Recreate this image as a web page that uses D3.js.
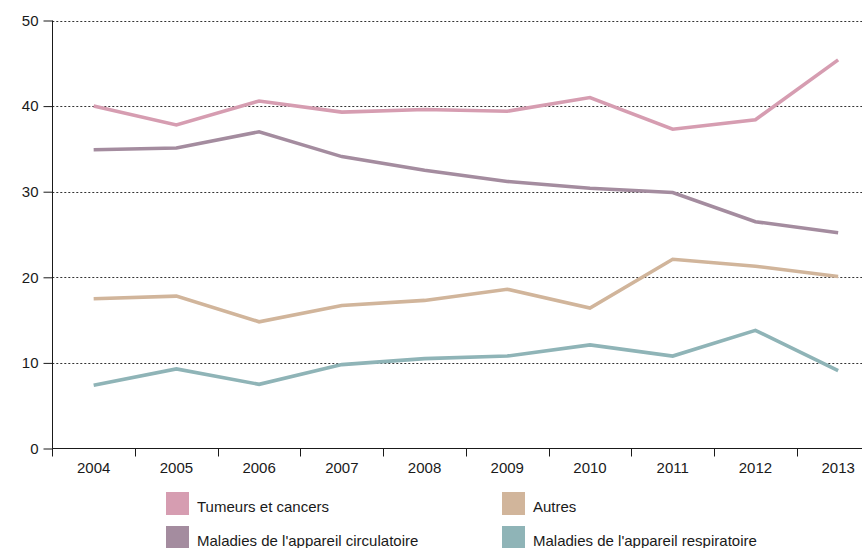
<!DOCTYPE html>
<html><head><meta charset="utf-8">
<script src="https://cdn.jsdelivr.net/npm/d3@7/dist/d3.min.js"></script>
<style>
html,body{margin:0;padding:0;background:#fff;}
svg text{font-family:"Liberation Sans",Arial,Helvetica,sans-serif;fill:#1a1a1a;}
</style></head>
<body><svg id="c" width="862" height="548"></svg>
<script>
const years = ["2004","2005","2006","2007","2008","2009","2010","2011","2012","2013"];
const yTicks = [0,10,20,30,40,50];
const tumeurs = [40.0,37.8,40.6,39.3,39.6,39.4,41.0,37.3,38.4,45.4];
const circulatoire = [34.9,35.1,37.0,34.1,32.5,31.2,30.4,29.9,26.5,25.2];
const autres = [17.5,17.8,14.8,16.7,17.3,18.6,16.4,22.1,21.3,20.1];
const respiratoire = [7.4,9.3,7.5,9.8,10.5,10.8,12.1,10.8,13.8,9.1];
const seriesNames = ["Tumeurs et cancers","Maladies de l'appareil circulatoire","Autres","Maladies de l'appareil respiratoire"];
const seriesColors = ["#d69db1","#a48c9f","#d1b59b","#8fb4b7"];
const seriesValues = [tumeurs, circulatoire, autres, respiratoire];

const svg = d3.select("#c");
const x = d3.scaleBand().domain(years).range([52.3, 879.5]);
const y = d3.scaleLinear().domain([0,50]).range([448.5, 20.5]);

// gridlines
svg.append("g").selectAll("line").data(yTicks.filter(d=>d>0)).join("line")
  .attr("x1", 52.3).attr("x2", 862)
  .attr("y1", d=>Math.round(y(d))+0.5).attr("y2", d=>Math.round(y(d))+0.5)
  .attr("stroke","#333").attr("stroke-width",1).attr("stroke-dasharray","2,2");

// y axis
const yAxis = svg.append("g").attr("transform","translate(52.5,0)")
  .call(d3.axisLeft(y).tickValues(yTicks).tickSize(9).tickPadding(5).tickFormat(d3.format("d")));
yAxis.select(".domain").attr("stroke","#1a1a1a").attr("d", `M0,${y(50)}V${y(0)}`);
yAxis.selectAll(".tick line").attr("stroke","#1a1a1a");
yAxis.selectAll("text").attr("font-size",15).attr("fill","#1a1a1a");

// x axis
const xAxis = svg.append("g").attr("transform",`translate(0,${y(0)})`)
  .call(d3.axisBottom(x).tickSize(0).tickPadding(14));
xAxis.select(".domain").attr("stroke","#1a1a1a").attr("d","M52.3,0H862");
xAxis.selectAll("text").attr("font-size",15).attr("fill","#1a1a1a");
svg.append("g").selectAll("line").data(years).join("line")
  .attr("x1", d=>Math.round(x(d))+0.5).attr("x2", d=>Math.round(x(d))+0.5)
  .attr("y1", y(0)).attr("y2", y(0)+8).attr("stroke","#1a1a1a");

// lines
const line = d3.line().x((d,i)=>x(years[i])+x.bandwidth()/2).y(d=>y(d));
svg.append("g").selectAll("path").data(seriesValues).join("path")
  .attr("d", line).attr("fill","none")
  .attr("stroke",(d,i)=>seriesColors[i]).attr("stroke-width",3.6);

// legend
const legendPos = [[166,492],[166,526],[502,492],[502,526]];
const lg = svg.append("g").selectAll("g").data(seriesNames).join("g")
  .attr("transform",(d,i)=>`translate(${legendPos[i][0]},${legendPos[i][1]})`);
lg.append("rect").attr("width",23).attr("height",23).attr("fill",(d,i)=>seriesColors[i]);
lg.append("text").attr("x",31).attr("y",20).attr("font-size",15).text(d=>d);
</script></body></html>
